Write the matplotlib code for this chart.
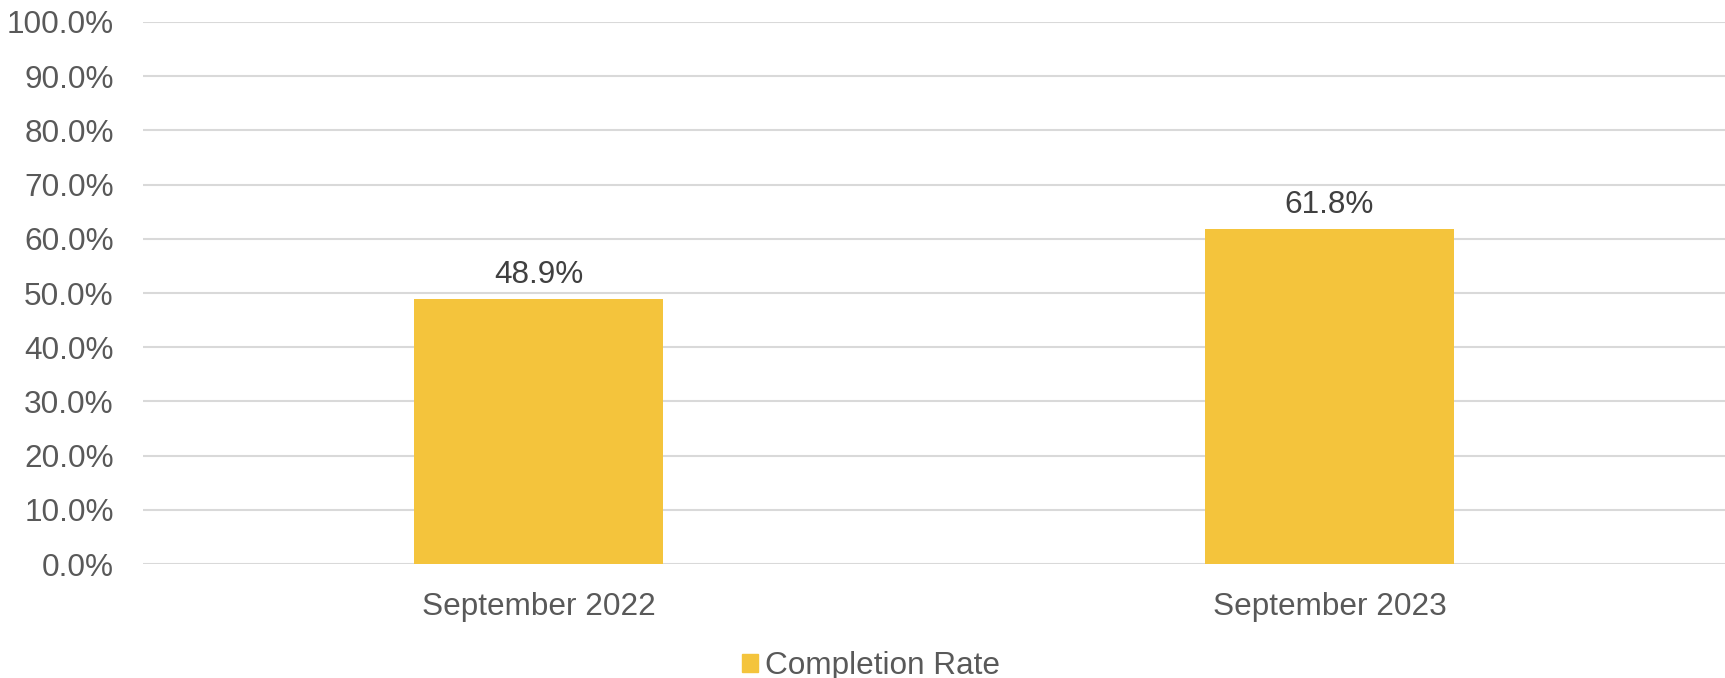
import matplotlib
matplotlib.use("Agg")
import matplotlib.pyplot as plt
import matplotlib.patches as mpatches
from matplotlib.ticker import MultipleLocator, FuncFormatter

# ── data ──────────────────────────────────────────────────────────────────────
categories = ["September 2022", "September 2023"]
completion_rate = [48.9, 61.8]
series_label = "Completion Rate"

BAR_COLOUR = "#F4C43C"
GRID_COLOUR = "#D9D9D9"
TICK_COLOUR = "#595959"
LABEL_COLOUR = "#404040"
FS = 22.7

plt.rcParams["font.family"] = ["Liberation Sans", "DejaVu Sans"]

fig = plt.figure(figsize=(17.25, 6.78), dpi=100)
ax = fig.add_axes([0.0829, 0.168, 0.9171, 0.7996])

x = range(len(categories))
bars = ax.bar(x, completion_rate, width=0.315, color=BAR_COLOUR, zorder=3)

for rect, val in zip(bars, completion_rate):
    ax.annotate(f"{val:.1f}%", (rect.get_x() + rect.get_width() / 2, val),
                xytext=(0, 6.5), textcoords="offset points",
                ha="center", va="bottom", fontsize=FS, color=LABEL_COLOUR)

ax.set_xlim(-0.5, len(categories) - 0.5)
ax.set_ylim(0, 100)
ax.yaxis.set_major_locator(MultipleLocator(10))
ax.yaxis.set_major_formatter(FuncFormatter(lambda v, _: f"{v:.1f}%"))
ax.set_xticks(list(x))
ax.set_xticklabels(categories)

ax.tick_params(axis="both", length=0, labelsize=FS, colors=TICK_COLOUR)
ax.tick_params(axis="y", pad=21)
ax.tick_params(axis="x", pad=20)
ax.yaxis.grid(True, color=GRID_COLOUR, linewidth=1.5, zorder=0)
ax.set_axisbelow(True)
for sp in ax.spines.values():
    sp.set_visible(False)

handle = mpatches.Patch(color=BAR_COLOUR, label=series_label)
fig.legend(handles=[handle], loc="center", bbox_to_anchor=(0.505, 0.018),
           frameon=False, fontsize=FS, handlelength=0.5, handleheight=0.5,
           handletextpad=0.25, labelcolor=TICK_COLOUR)

fig.savefig("out.png", dpi=100)
